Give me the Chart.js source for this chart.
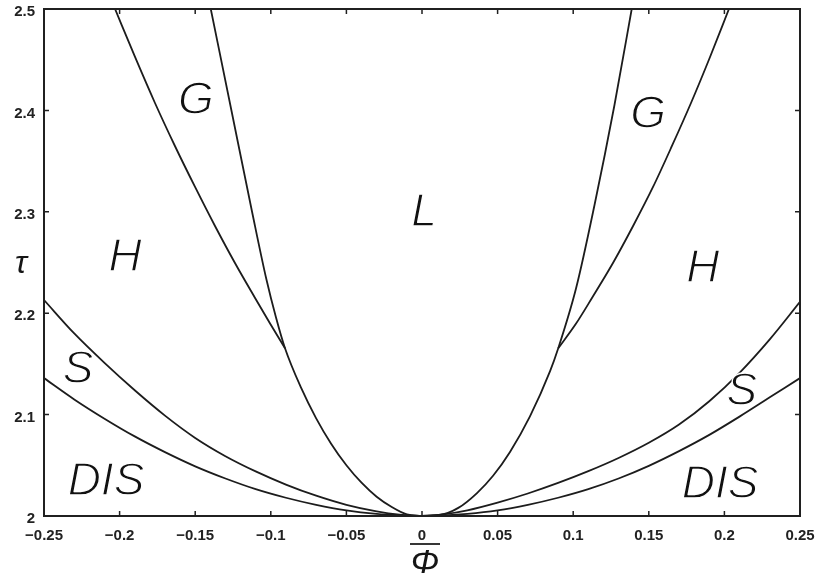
<!DOCTYPE html>
<html>
<head>
<meta charset="utf-8">
<script src="https://cdn.jsdelivr.net/npm/chart.js@4/dist/chart.umd.min.js"></script>
<style>
  html, body { margin: 0; padding: 0; background: #ffffff; }
  #wrap { width: 815px; height: 576px; }
</style>
</head>
<body>
<div id="wrap"><canvas id="phase" width="815" height="576"></canvas></div>
<script>
// Axis ticks and their printed labels
const xTicks = [-0.25, -0.2, -0.15, -0.1, -0.05, 0, 0.05, 0.1, 0.15, 0.2, 0.25];
const xTickLabels = ['\u22120.25', '\u22120.2', '\u22120.15', '\u22120.1', '\u22120.05', '0', '0.05', '0.1', '0.15', '0.2', '0.25'];
const yTicks = [2, 2.1, 2.2, 2.3, 2.4, 2.5];
const yTickLabels = ['2', '2.1', '2.2', '2.3', '2.4', '2.5'];

// Lamellar boundary, left branch (L/G above the triple point, L/H below)
const phiLamLeft = [-0.1397, -0.1261, -0.1124, -0.1028, -0.0966, -0.0906, -0.08, -0.07, -0.06, -0.05, -0.04, -0.03, -0.02, -0.01, 0];
const tauLamLeft = [2.5000, 2.4004, 2.3001, 2.2327, 2.1960, 2.1654, 2.1265, 2.0963, 2.0710, 2.0500, 2.0328, 2.0190, 2.0088, 2.0015, 2.0000];

// Lamellar boundary, right branch
const phiLamRight = [0, 0.012, 0.024, 0.0362, 0.047, 0.0582, 0.0714, 0.0847, 0.0901, 0.1019, 0.1141, 0.1273, 0.1387];
const tauLamRight = [2.0000, 2.0010, 2.0080, 2.0224, 2.0397, 2.0632, 2.0982, 2.1428, 2.1654, 2.2246, 2.3067, 2.4053, 2.5000];

// Gyroid / hexagonal boundary
const phiGyrHexLeft = [-0.2030, -0.1898, -0.1766, -0.1634, -0.1501, -0.1369, -0.1237, -0.1104, -0.1005, -0.0906];
const tauGyrHexLeft = [2.5000, 2.4527, 2.4073, 2.3649, 2.3245, 2.2860, 2.2495, 2.2150, 2.1898, 2.1654];
const phiGyrHexRight = [0.0901, 0.1019, 0.1124, 0.1263, 0.1396, 0.1528, 0.1653, 0.1779, 0.1905, 0.2030];
const tauGyrHexRight = [2.1654, 2.1898, 2.2150, 2.2495, 2.2860, 2.3245, 2.3649, 2.4073, 2.4527, 2.5000];

// Hexagonal / spherical boundary
const phiHexSphLeft = [-0.25, -0.23, -0.21, -0.19, -0.17, -0.15, -0.13, -0.11, -0.09, -0.07, -0.05, -0.03, -0.015, 0];
const tauHexSphLeft = [2.213, 2.180, 2.151, 2.124, 2.099, 2.077, 2.059, 2.044, 2.031, 2.020, 2.011, 2.0045, 2.0013, 2.000];
const phiHexSphRight = [0, 0.015, 0.03, 0.05, 0.07, 0.09, 0.11, 0.13, 0.15, 0.17, 0.19, 0.21, 0.23, 0.25];
const tauHexSphRight = [2.000, 2.0018, 2.0056, 2.0132, 2.0222, 2.0326, 2.0442, 2.0572, 2.0722, 2.0902, 2.1132, 2.1412, 2.1742, 2.2112];

// Spherical / disordered boundary
const phiSphDisLeft = [-0.25, -0.23, -0.21, -0.19, -0.17, -0.15, -0.13, -0.11, -0.09, -0.07, -0.05, -0.03, -0.015, 0];
const tauSphDisLeft = [2.136, 2.115, 2.096, 2.0785, 2.063, 2.049, 2.037, 2.0265, 2.018, 2.011, 2.0055, 2.002, 2.0006, 2.000];
const phiSphDisRight = [0, 0.015, 0.03, 0.05, 0.07, 0.09, 0.11, 0.13, 0.15, 0.17, 0.19, 0.21, 0.23, 0.25];
const tauSphDisRight = [2.000, 2.0005, 2.002, 2.0055, 2.011, 2.018, 2.0265, 2.037, 2.0495, 2.064, 2.080, 2.098, 2.117, 2.136];

// Phase names and where they sit in the (phi, tau) plane
const phaseNames = ['G', 'G', 'L', 'H', 'H', 'S', 'S', 'DIS', 'DIS'];
const phasePhi = [-0.1495, 0.1495, 0.0013, -0.1964, 0.1858, -0.2275, 0.2116, -0.2090, 0.1971];
const phaseTau = [2.4093, 2.3955, 2.2988, 2.2544, 2.2436, 2.1440, 2.1223, 2.0335, 2.0306];

const toPoints = (xs, ys) => xs.map((v, i) => ({ x: v, y: ys[i] }));

const curves = [
  [phiLamLeft, tauLamLeft],
  [phiLamRight, tauLamRight],
  [phiGyrHexLeft, tauGyrHexLeft],
  [phiGyrHexRight, tauGyrHexRight],
  [phiHexSphLeft, tauHexSphLeft],
  [phiHexSphRight, tauHexSphRight],
  [phiSphDisLeft, tauSphDisLeft],
  [phiSphDisRight, tauSphDisRight]
];

const LINE = '#1c1c1c';
const SANS = '"Liberation Sans", Arial, sans-serif';

// Frame with inward ticks, axis symbols and phase names
const framePlugin = {
  id: 'phaseFrame',
  afterDatasetsDraw(chart) {
    const { ctx, chartArea: a, scales } = chart;
    const sx = scales.x, sy = scales.y;
    ctx.save();
    ctx.strokeStyle = '#202020';
    ctx.lineWidth = 2;
    ctx.strokeRect(a.left, a.top, a.right - a.left, a.bottom - a.top);

    ctx.lineWidth = 1.5;
    ctx.beginPath();
    const tl = 5;
    xTicks.forEach(v => {
      if (v === xTicks[0] || v === xTicks[xTicks.length - 1]) return;
      const px = sx.getPixelForValue(v);
      ctx.moveTo(px, a.bottom); ctx.lineTo(px, a.bottom - tl);
      ctx.moveTo(px, a.top); ctx.lineTo(px, a.top + tl);
    });
    yTicks.forEach(v => {
      if (v === yTicks[0] || v === yTicks[yTicks.length - 1]) return;
      const py = sy.getPixelForValue(v);
      ctx.moveTo(a.left, py); ctx.lineTo(a.left + tl, py);
      ctx.moveTo(a.right, py); ctx.lineTo(a.right - tl, py);
    });
    ctx.stroke();

    // phase names: thin oblique lettering (a white outline trims the stems)
    ctx.font = 'italic 46px ' + SANS;
    ctx.textAlign = 'center';
    ctx.textBaseline = 'middle';
    ctx.lineJoin = 'round';
    phaseNames.forEach((n, i) => {
      const px = sx.getPixelForValue(phasePhi[i]);
      const py = sy.getPixelForValue(phaseTau[i]);
      ctx.fillStyle = '#111';
      ctx.fillText(n, px, py);
      ctx.strokeStyle = '#ffffff';
      ctx.lineWidth = 1.3;
      ctx.strokeText(n, px, py);
    });

    // axis symbols
    ctx.fillStyle = '#151515';
    ctx.font = 'italic 32px ' + SANS;
    ctx.fillText('\u03C4', a.left - 23, (a.top + a.bottom) / 2 + 2);

    const cx = (a.left + a.right) / 2 + 3;
    ctx.font = 'italic 34px ' + SANS;
    ctx.fillText('\u03A6', cx, a.bottom + 48);
    ctx.strokeStyle = '#202020';
    ctx.lineWidth = 1.8;
    ctx.beginPath();
    ctx.moveTo(cx - 15, a.bottom + 28);
    ctx.lineTo(cx + 15, a.bottom + 28);
    ctx.stroke();
    ctx.restore();
  }
};

const tickFont = { family: SANS, size: 15, weight: 'bold' };

new Chart(document.getElementById('phase'), {
  type: 'scatter',
  data: {
    datasets: curves.map(([xs, ys]) => ({
      data: toPoints(xs, ys),
      showLine: true,
      borderColor: LINE,
      borderWidth: 1.8,
      pointRadius: 0,
      pointHoverRadius: 0,
      cubicInterpolationMode: 'monotone',
      fill: false
    }))
  },
  options: {
    responsive: false,
    animation: false,
    devicePixelRatio: 1,
    layout: { padding: { left: 0, right: 15, top: 9, bottom: 0 } },
    plugins: { legend: { display: false }, tooltip: { enabled: false } },
    events: [],
    scales: {
      x: {
        type: 'linear',
        min: -0.25,
        max: 0.25,
        grid: { display: false, drawTicks: false },
        border: { display: false },
        afterBuildTicks: s => { s.ticks = xTicks.map(v => ({ value: v })); },
        afterFit: s => { s.height = 60; s.paddingLeft = 0; s.paddingRight = 0; },
        ticks: {
          color: '#222',
          font: tickFont,
          padding: 11,
          maxRotation: 0,
          autoSkip: false,
          callback: (v, i) => xTickLabels[i]
        }
      },
      y: {
        type: 'linear',
        min: 2,
        max: 2.5,
        grid: { display: false, drawTicks: false },
        border: { display: false },
        afterBuildTicks: s => { s.ticks = yTicks.map(v => ({ value: v })); },
        afterFit: s => { s.width = 44; s.paddingTop = 0; s.paddingBottom = 0; },
        ticks: {
          color: '#222',
          font: tickFont,
          padding: 9,
          labelOffset: 3,
          autoSkip: false,
          callback: (v, i) => yTickLabels[i]
        }
      }
    }
  },
  plugins: [framePlugin]
});
</script>
</body>
</html>
